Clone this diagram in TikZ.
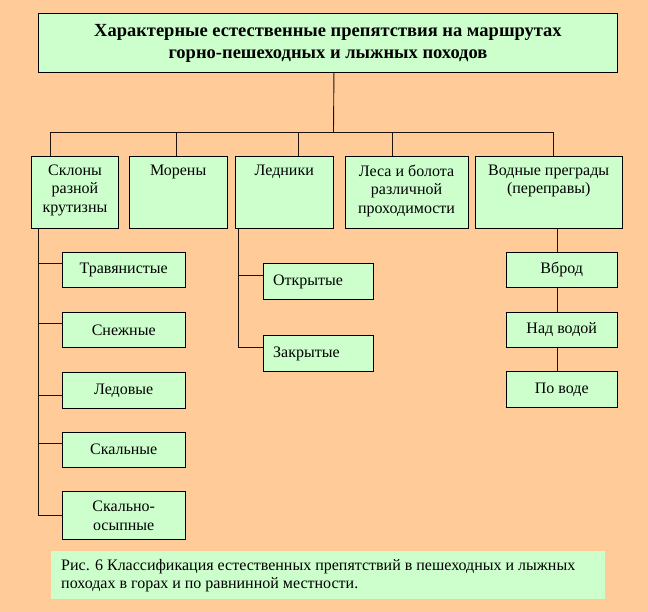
\documentclass[tikz,border=0pt]{standalone}
\usepackage{fontspec}
\setmainfont{Liberation Serif}
\usetikzlibrary{positioning}
\definecolor{peach}{RGB}{255,204,153}
\definecolor{mint}{RGB}{204,255,204}
\tikzstyle{box}=[draw=black,fill=mint,line width=0.9pt,inner sep=0pt,anchor=north west,align=center]
\tikzstyle{edge} = [draw,line width=0.9pt,black!85!brown]

\begin{document}
\begin{tikzpicture}[x=1pt,y=-1pt,font=\fontsize{16}{18.5}\selectfont]
    \fill[peach] (0,0) rectangle (648,612);
    \useasboundingbox (0,0) rectangle (648,612);
    % Title box
    \node[box,minimum width=579pt,minimum height=59pt] (title) at (38,13) {};
    \node[font=\fontsize{18.5}{22}\selectfont\bfseries,align=center,inner sep=0pt] (title-t) at (title.center)
        {Характерные естественные препятствия на маршрутах\\горно-пешеходных и лыжных походов};
    \coordinate (bar) at (333.5,132);
    \path[edge] ([xshift=6pt]title.south) -- (bar);
    % Kinds of obstacles
    \foreach \x/\w/\dx/\name/\txt in {31/87/19.5/slopes/{Склоны\\разной\\крутизны}, 128.7/98/47.3/moraines/Морены,
        234.6/98.4/63.4/glaciers/Ледники, 344.6/123/47.4/forests/{Леса и болота\\различной\\проходимости},
        474.6/147.3/79/water/{Водные преграды\\(переправы)}}
    {
        \node[box,minimum width=\w pt,minimum height=72pt] (\name) at (\x,155.7) {};
        \node[anchor=north,align=center,inner sep=0pt] (\name-t) at ([yshift=-9pt]\name.north) {\txt};
        \path[edge] ([xshift=\dx pt]\name.north west) |- (bar);
    }
    % Slopes
    \foreach \y/\h/\c/\name/\txt in {251.7/35.6/11.6/grass/Травянистые, 311.7/35.6/11.6/snow/Снежные,
        372.3/36/22.7/ice/Ледовые, 431.7/35/11.3/rock/Скальные, 491/48.3/24/scree/{Скально-\\осыпные}}
    {
        \node[box,minimum width=122.5pt,minimum height=\h pt] (\name) at (62,\y) {\txt};
        \path[edge] ([xshift=7.5pt]slopes.south west) |- ([yshift=-\c pt]\name.north west);
    }
    % Glaciers
    \foreach \y/\name/\txt in {263.3/open/Открытые, 335/closed/Закрытые}
    {
        \node[box,minimum height=36pt,text width=90.5pt,inner xsep=10pt,align=left] (\name) at (262.7,\y) {\txt};
        \path[edge] ([xshift=4.1pt]glaciers.south west) |- ([yshift=-12.4pt]\name.north west);
    }
    % Water crossings
    \foreach \y/\h/\name/\txt in {251.7/35.6/ford/Вброд, 311.7/35.6/above/Над водой, 371/36.3/onwater/По воде}
        \node[box,minimum width=110.5pt,minimum height=\h pt] (\name) at (506,\y) {\txt};
    \path[edge] ([xshift=82.7pt]water.south west) -- ([xshift=51.3pt]ford.north west);
    \foreach \source/\dest in {ford/above, above/onwater}
        \path[edge] ([xshift=51.3pt]\source.south west) -- ([xshift=51.3pt]\dest.north west);
    % Caption
    \node[fill=mint,minimum width=554.5pt,minimum height=48pt,anchor=north west,inner sep=0pt] (caption) at (50.5,551) {};
    \node[anchor=west,align=left,inner sep=0pt,font=\fontsize{16}{18}\selectfont] (caption-t) at ([xshift=10.5pt]caption.west)
        {Рис. 6 Классификация естественных препятствий в пешеходных и лыжных\\походах в горах и по равнинной местности.};
\end{tikzpicture}
\end{document}
